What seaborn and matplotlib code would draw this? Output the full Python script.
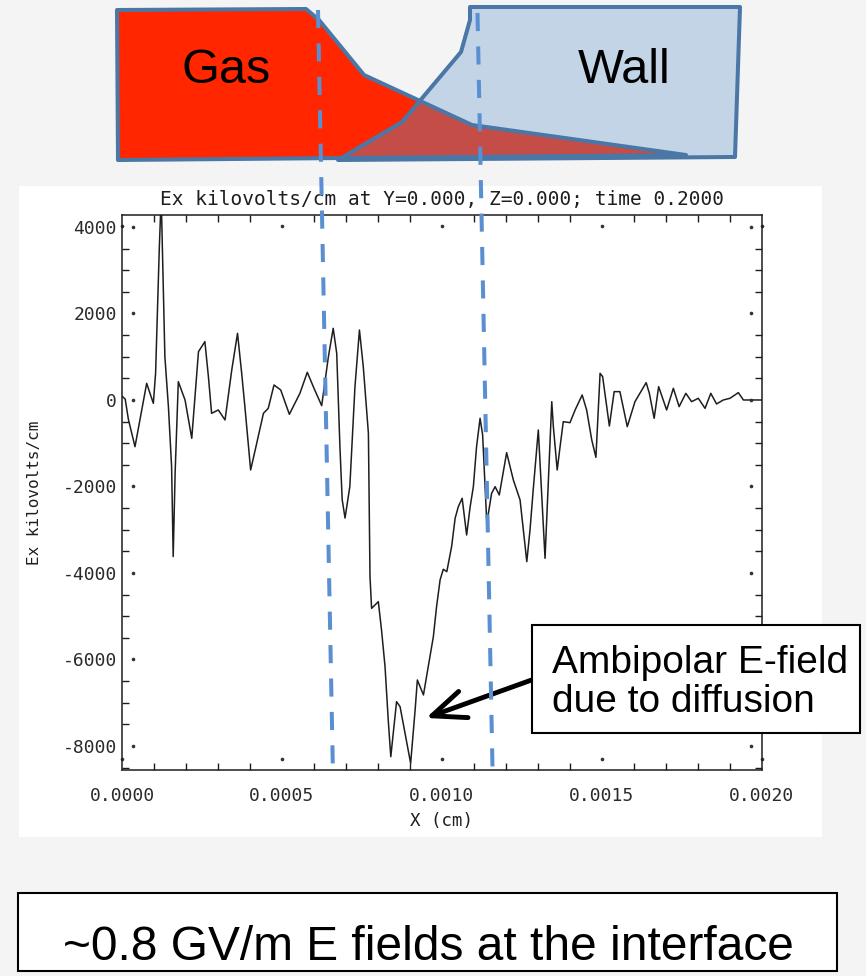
import matplotlib
matplotlib.use("Agg")
import matplotlib.pyplot as plt
import pandas as pd
import seaborn as sns
from matplotlib.patches import Polygon, Rectangle
from matplotlib.ticker import FixedLocator, MultipleLocator, FormatStrFormatter
from matplotlib import font_manager

# ---------------- data ----------------
x_cm = [0.0, 0.00001, 0.00002, 0.0000406, 0.0000771, 0.0000979, 0.000105, 0.0001167,
        0.0001225, 0.000134, 0.000145, 0.000155, 0.00016, 0.000166, 0.000176, 0.000197,
        0.000218, 0.000239, 0.000259, 0.00027, 0.00028, 0.000301, 0.000322, 0.000343,
        0.000361, 0.000374, 0.000384, 0.000402, 0.000421, 0.000442, 0.000457, 0.000475,
        0.000496, 0.000523, 0.000556, 0.000579, 0.0006, 0.000624, 0.000645, 0.00066,
        0.000671, 0.000681, 0.000688, 0.000697, 0.000712, 0.000728, 0.000742, 0.000754,
        0.00077, 0.000775, 0.00078, 0.000801, 0.000811, 0.000822, 0.000832, 0.00084,
        0.000858, 0.000869, 0.000902, 0.000916, 0.000923, 0.000942, 0.000957, 0.000973,
        0.000983, 0.000994, 0.001004, 0.001015, 0.00103, 0.001041, 0.001051, 0.001063,
        0.001077, 0.001088, 0.001098, 0.001108, 0.001119, 0.001127, 0.00114, 0.001155,
        0.001166, 0.001179, 0.001202, 0.001223, 0.001244, 0.001265, 0.001275, 0.001285,
        0.001301, 0.001322, 0.001343, 0.001348, 0.00136, 0.001369, 0.001379, 0.0014,
        0.001416, 0.001438, 0.001452, 0.001468, 0.001481, 0.001494, 0.001502, 0.001523,
        0.001538, 0.001556, 0.001579, 0.001603, 0.001638, 0.001648, 0.001663, 0.001677,
        0.001702, 0.001723, 0.001741, 0.001762, 0.00178, 0.001801, 0.001822, 0.00184,
        0.001858, 0.001879, 0.0019, 0.001926, 0.001942, 0.002]
ex_kv = [90, 20, -450, -1080, 386, -77, 620, 3545,
         4700, 1000, -150, -1540, -3620, -1690, 423, 0,
         -886, 1117, 1349, 540, -308, -231, -462, 694,
         1541, 617, -154, -1618, -1001, -308, -193, 347,
         231, -331, 154, 640, 270, -131, 1001, 1657,
         1079, -1079, -2300, -2730, -2000, 308, 1618, 771,
         -771, -4085, -4817, -4663, -5318, -6166, -7398, -8247,
         -6975, -7091, -8400, -7167, -6474, -6820, -6166, -5472,
         -4779, -4162, -3914, -3969, -3392, -2735, -2466, -2273,
         -3121, -2466, -2004, -1079, -424, -810, -2851, -2158,
         -2004, -2196, -1218, -1850, -2312, -3738, -3006, -2081,
         -694, -3660, -39, -617, -1618, -1079, -501, -524,
         -231, 116, -231, -925, -1326, 617, 540, -601,
         193, 193, -617, -39, 401, 154, -424, 308,
         -231, 270, -154, 154, -39, 39, -193, 154,
         -92, 0, 39, 170, 0, 0]

x_major = [0.0, 0.0005, 0.0010, 0.0015, 0.0020]
y_major = [-8000, -6000, -4000, -2000, 0, 2000, 4000]
x_limits = (0.0, 0.002)
y_limits = (-8555, 4277)

title_text = "Ex kilovolts/cm at Y=0.000, Z=0.000; time 0.2000"
x_label = "X (cm)"
y_label = "Ex kilovolts/cm"
gas_label = "Gas"
wall_label = "Wall"
note_lines = ["Ambipolar E-field", "due to diffusion"]
note_tip = (0.00095, -7352)
note_tail = (0.00128, -6474)
footer_text = "~0.8 GV/m E fields at the interface"

# schematic outlines (pixel coordinates of the decorative drawing)
gas_shape = [(117, 10), (306, 9), (319, 20), (364, 75), (472, 125), (686, 155), (118, 160)]
wall_shape = [(470, 7), (740, 7), (735, 157), (338, 160), (402, 122), (461, 52), (470, 20)]
mix_shape = [(420, 101), (472, 125), (686, 155), (338, 160), (402, 122)]
guide_left = [(318, 10), (333, 776)]
guide_right = [(477.5, 13), (492.7, 778)]

# ---------------- style ----------------
sns.set_style("white")
plt.rcParams["axes.unicode_minus"] = False
plt.rcParams["font.family"] = ["DejaVu Sans"]

names = {f.name for f in font_manager.fontManager.ttflist}
if "Liberation Sans Narrow" in names:
    footer_font, footer_size = "Liberation Sans Narrow", 43
else:
    footer_font, footer_size = "Liberation Sans", 34.5

W, H = 866, 976
BG = "#f4f4f4"
INK = "#1e1e1e"

fig = plt.figure(figsize=(W / 100, H / 100), dpi=100, facecolor=BG)

# white panel behind the IDL plot
fig.add_artist(Rectangle((19 / W, 1 - 837 / H), (822 - 19) / W, (837 - 186) / H,
                         transform=fig.transFigure, facecolor="white",
                         edgecolor="none", zorder=-1))

ax = fig.add_axes([122 / W, 1 - 770 / H, 640 / W, 555 / H])
ax.set_facecolor("white")

df = pd.DataFrame({"x": x_cm, "ex": ex_kv})
sns.lineplot(data=df, x="x", y="ex", ax=ax, color=INK, linewidth=1.1,
             estimator=None, sort=False)

ax.set_xlim(*x_limits)
ax.set_ylim(*y_limits)
ax.xaxis.set_major_locator(FixedLocator(x_major))
ax.xaxis.set_major_formatter(FormatStrFormatter("%.4f"))
ax.xaxis.set_minor_locator(MultipleLocator(0.0001))
ax.yaxis.set_major_locator(FixedLocator(y_major))
ax.yaxis.set_major_formatter(FormatStrFormatter("%d"))
ax.yaxis.set_minor_locator(MultipleLocator(500))

for s in ax.spines.values():
    s.set_color(INK)
    s.set_linewidth(1.1)

ax.tick_params(which="both", direction="in", top=True, right=True,
               bottom=True, left=True, colors=INK)
ax.tick_params(which="major", length=0)
ax.tick_params(which="minor", length=5, width=1.0)
ax.tick_params(axis="x", which="major", pad=12, labelsize=13)
ax.tick_params(axis="y", which="major", pad=3.6, labelsize=13)
for lab in ax.get_xticklabels() + ax.get_yticklabels():
    lab.set_family("DejaVu Sans Mono")
    lab.set_color("#2a2a2a")

# major ticks appear as small dots inside the frame
dot = dict(ls="none", marker="o", ms=1.6, color="#333333", clip_on=False)
ax.plot(x_major, [11 / 555] * len(x_major), transform=ax.get_xaxis_transform(), **dot)
ax.plot(x_major, [1 - 11 / 555] * len(x_major), transform=ax.get_xaxis_transform(), **dot)
ax.plot([11 / 640] * len(y_major), y_major, transform=ax.get_yaxis_transform(), **dot)
ax.plot([1 - 11 / 640] * len(y_major), y_major, transform=ax.get_yaxis_transform(), **dot)

ax.set_title(title_text, fontsize=14, family="DejaVu Sans Mono", color=INK, pad=7)
ax.set_xlabel(x_label, fontsize=12.5, family="DejaVu Sans Mono", color=INK, labelpad=5)
ax.set_ylabel(y_label, fontsize=11.5, family="DejaVu Sans Mono", color=INK)
ax.yaxis.set_label_coords(-0.125, 0.5)

ax.annotate("", xy=note_tip, xytext=note_tail, annotation_clip=False,
            arrowprops=dict(arrowstyle="->,head_length=2.4,head_width=1.0",
                            lw=3.5, color="black", mutation_scale=10,
                            shrinkA=0, shrinkB=0))

# ---------------- overlay: schematic, guides, boxes ----------------
ov = fig.add_axes([0, 0, 1, 1], zorder=5)
ov.set_xlim(0, W)
ov.set_ylim(H, 0)
ov.axis("off")

EDGE = "#4a77a6"
ov.add_patch(Polygon(gas_shape, closed=True, facecolor="#ff2600", edgecolor="none"))
ov.add_patch(Polygon(wall_shape, closed=True, facecolor="#c3d4e7", edgecolor="none"))
ov.add_patch(Polygon(mix_shape, closed=True, facecolor="#c44e47", edgecolor="none"))
ov.add_patch(Polygon(gas_shape, closed=True, fill=False, edgecolor=EDGE, lw=2.9,
                     joinstyle="round"))
ov.add_patch(Polygon(wall_shape, closed=True, fill=False, edgecolor=EDGE, lw=2.9,
                     joinstyle="round"))
ov.text(226, 83, gas_label, fontsize=35, family="Liberation Sans", ha="center",
        va="baseline", color="black")
ov.text(624, 83, wall_label, fontsize=35, family="Liberation Sans", ha="center",
        va="baseline", color="black")

for seg in (guide_left, guide_right):
    xs, ys = zip(*seg)
    ov.plot(xs, ys, color="#5a8fd1", lw=2.9, linestyle=(0, (4.5, 3.8)),
            solid_capstyle="butt", dash_capstyle="butt")

ov.add_patch(Rectangle((532, 625), 328, 108, facecolor="white", edgecolor="black", lw=1.5))
ov.text(552, 672.7, note_lines[0], fontsize=28, family="Liberation Sans",
        ha="left", va="baseline", color="black")
ov.text(552, 711.7, note_lines[1], fontsize=28, family="Liberation Sans",
        ha="left", va="baseline", color="black")

ov.add_patch(Rectangle((18, 893), 819, 78, facecolor="white", edgecolor="black", lw=1.5))
ov.text(428, 960, footer_text, fontsize=footer_size, family=footer_font,
        ha="center", va="baseline", color="black")

fig.savefig("out.png", dpi=100, facecolor=BG)
